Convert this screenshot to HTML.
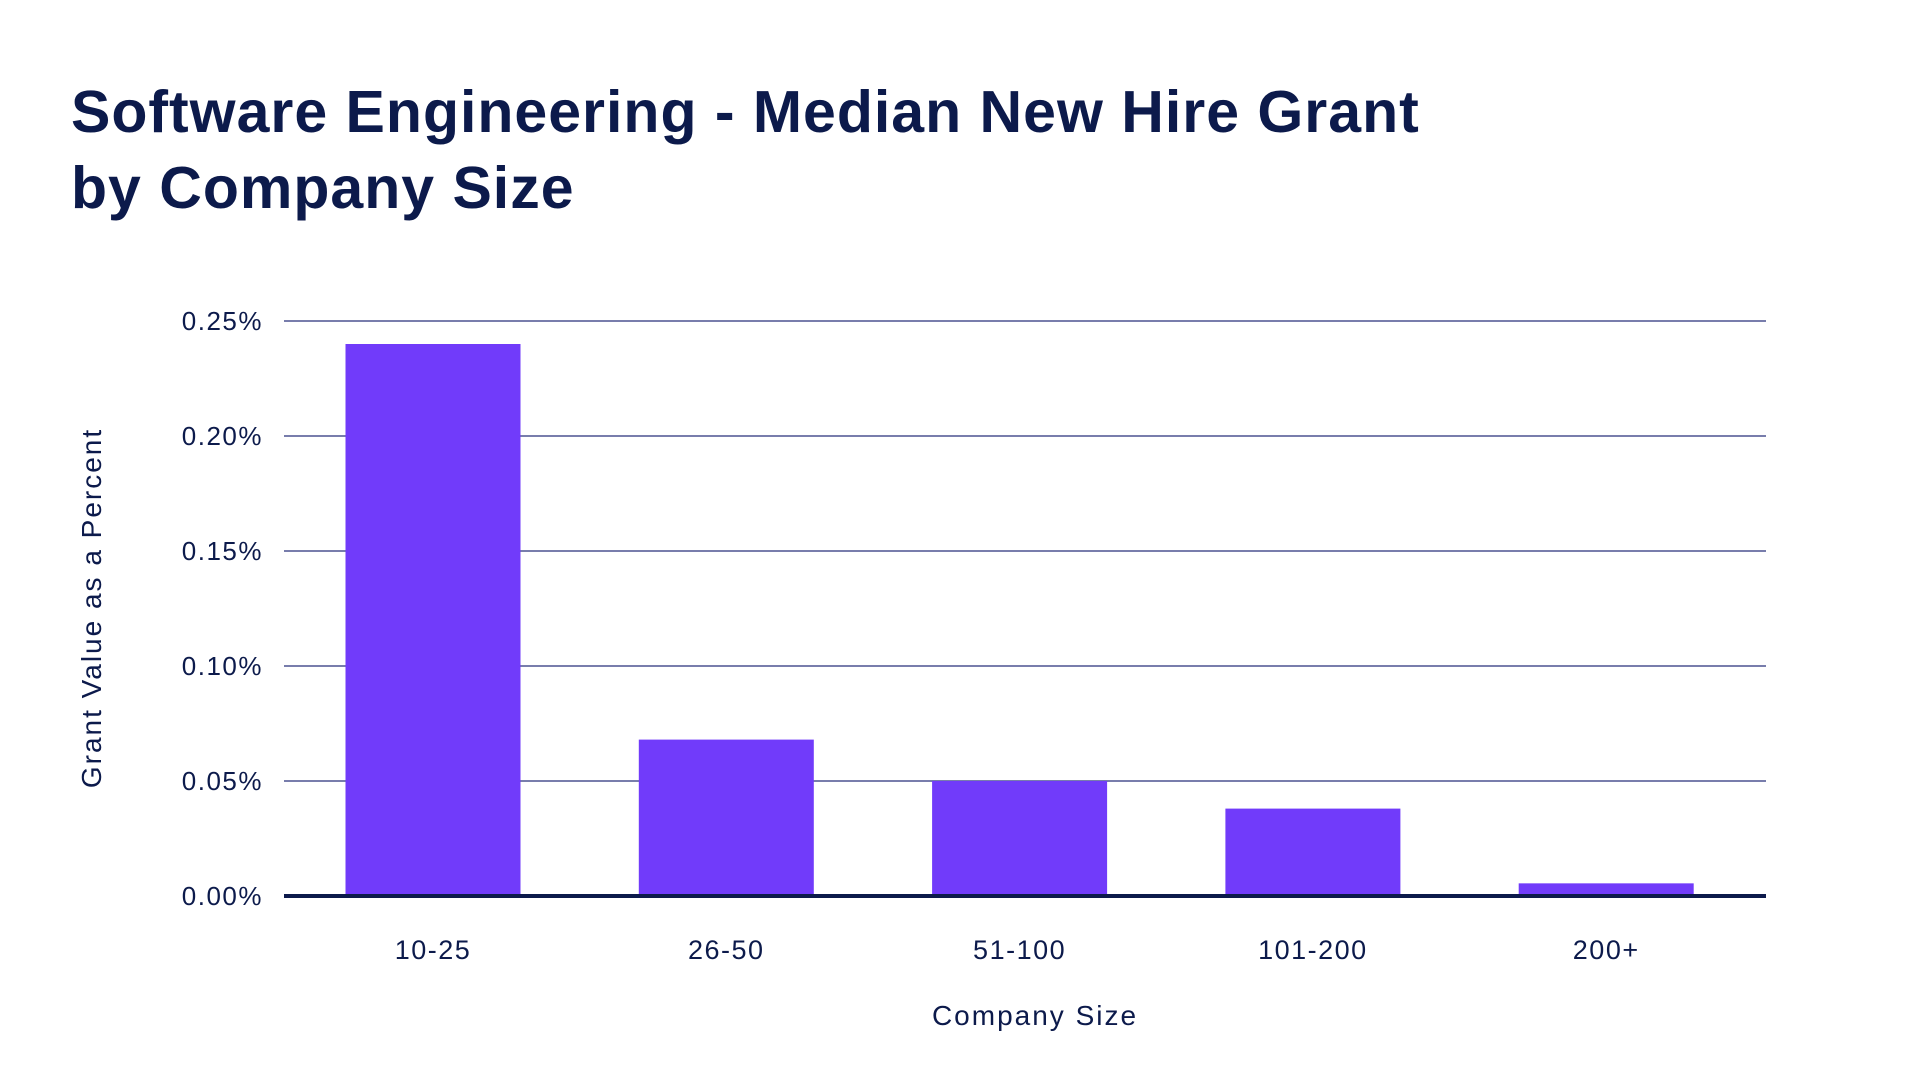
<!DOCTYPE html>
<html><head><meta charset="utf-8"><style>
html,body{margin:0;padding:0;background:#fff;}
body{width:1920px;height:1080px;overflow:hidden;font-family:"Liberation Sans",sans-serif;color:#0c1a4b;}
h1{position:absolute;left:71px;top:74px;margin:0;font-size:59px;line-height:76px;font-weight:bold;letter-spacing:1px;color:#0c1a4b;}
svg{position:absolute;left:0;top:0;}
</style></head><body>
<h1>Software Engineering - Median New Hire Grant<br>by Company Size</h1>
<svg id="chart" width="1920" height="1080"></svg>
<script>
const categories = ["10-25","26-50","51-100","101-200","200+"];
const values = [0.240,0.068,0.050,0.038,0.0055];
const ticks = [0,0.05,0.10,0.15,0.20,0.25];
const tickLabels = ["0.00%","0.05%","0.10%","0.15%","0.20%","0.25%"];
const NS="http://www.w3.org/2000/svg";
const svg=document.getElementById('chart');
const x0=284,x1=1766,yTop=321,yBot=896,yMax=0.25;
const y=v=>yBot-(v/yMax)*(yBot-yTop);
const firstC=433,step=293.3;
const xc=i=>firstC+step*i;
function mk(t,a){const e=document.createElementNS(NS,t);for(const k in a)e.setAttribute(k,a[k]);svg.appendChild(e);return e;}
ticks.forEach((t,i)=>{
  if(i>0){const l=mk('line',{x1:x0,x2:x1,y1:y(t),y2:y(t),stroke:'#4b5290','stroke-width':1.5});
  
  }
  const tx=mk('text',{x:263,y:y(t)+9,'text-anchor':'end','font-size':26,'letter-spacing':1.5,fill:'#0c1a4b','font-family':'Liberation Sans, sans-serif'});
  tx.textContent=tickLabels[i];
  
  
});
const bw=175;
categories.forEach((c,i)=>{
  const r=mk('rect',{x:xc(i)-bw/2,y:y(values[i]),width:bw,height:yBot-y(values[i]),fill:'#713bfa'});
  
  
  const t=mk('text',{x:xc(i),y:959,'text-anchor':'middle','font-size':27,'letter-spacing':1.5,fill:'#0c1a4b','font-family':'Liberation Sans, sans-serif'});
  t.textContent=c;
  
  
});
const ax=mk('line',{x1:x0,x2:x1,y1:yBot,y2:yBot,stroke:'#0c1a4b','stroke-width':4});


const xt=mk('text',{x:1035,y:1025,'text-anchor':'middle','font-size':28,'letter-spacing':2,fill:'#0c1a4b','font-family':'Liberation Sans, sans-serif'});
xt.textContent='Company Size';


const yt=mk('text',{x:0,y:0,'text-anchor':'middle','font-size':28,'letter-spacing':2,fill:'#0c1a4b','font-family':'Liberation Sans, sans-serif',transform:'translate(101,608) rotate(-90)'});
yt.textContent='Grant Value as a Percent';


</script>
</body></html>
